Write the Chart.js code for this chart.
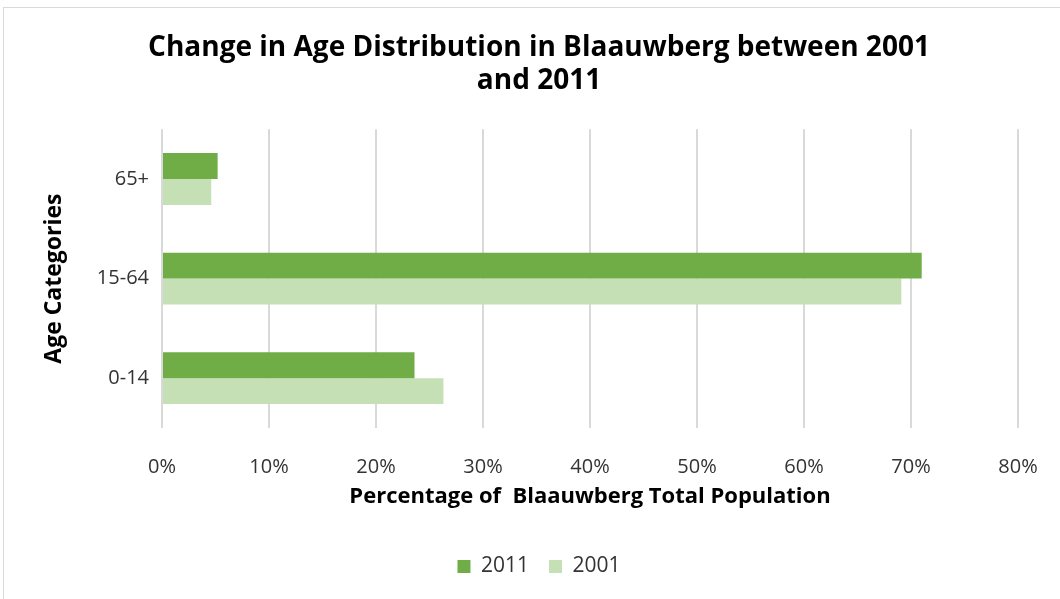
<!DOCTYPE html>
<html>
<head>
<meta charset="utf-8">
<script src="https://cdn.jsdelivr.net/npm/chart.js@4"></script>
<style>
  body { margin: 0; background: #fff; }
  #frame { position: absolute; left: 3px; top: 7px; width: 1060px; height: 600px; border: 1px solid #d9d9d9; box-sizing: border-box; }
  #wrap { position: absolute; left: 0; top: 0; width: 1060px; height: 599px; }
</style>
</head>
<body>
<div id="frame"></div>
<div id="wrap"><canvas id="myChart"></canvas></div>
<script>
const categorias = ['65+', '15-64', '0-14'];
const valores2011 = [5.2, 71.0, 23.6];
const valores2001 = [4.6, 69.1, 26.3];
const ticksX = [0, 10, 20, 30, 40, 50, 60, 70, 80];

const fonte = "'Open Sans', 'DejaVu Sans', sans-serif";

const data = {
    labels: categorias,
    datasets: [{
        label: '2011',
        backgroundColor: '#70ad47',
        data: valores2011,
        barPercentage: 1.0,
        categoryPercentage: 0.52
    }, {
        label: '2001',
        backgroundColor: '#c5e0b4',
        data: valores2001,
        barPercentage: 1.0,
        categoryPercentage: 0.52
    }]
};

const config = {
    type: 'bar',
    data: data,
    options: {
        indexAxis: 'y',
        responsive: true,
        maintainAspectRatio: false,
        animation: false,
        layout: { padding: { left: 60, right: 42, top: 31, bottom: 12 } },
        plugins: {
            title: {
                display: true,
                text: ['Change in Age Distribution in Blaauwberg between 2001', 'and 2011'],
                color: '#000',
                font: { family: fonte, size: 28, weight: 'bold' },
                padding: { top: 0, bottom: 31 },
                lineHeight: 1.3
            },
            legend: {
                position: 'bottom',
                labels: {
                    color: '#333',
                    font: { family: fonte, size: 21 },
                    boxWidth: 13,
                    boxHeight: 13,
                    padding: 20
                }
            },
            tooltip: { enabled: false }
        },
        scales: {
            x: {
                min: 0,
                max: 80,
                afterBuildTicks: function (axis) {
                    axis.ticks = ticksX.map(function (v) { return { value: v }; });
                },
                afterFit: function (axis) {
                    axis.height = 108;
                    axis.paddingRight = 0;
                },
                ticks: {
                    color: '#333',
                    font: { family: fonte, size: 20 },
                    padding: 27,
                    callback: function (v) { return v + '%'; }
                },
                grid: { color: '#d9d9d9', lineWidth: 2, drawTicks: false },
                border: { display: false },
                title: {
                    display: true,
                    text: 'Percentage of  Blaauwberg Total Population',
                    color: '#000',
                    font: { family: fonte, size: 22, weight: 'bold' },
                    padding: { top: 5, bottom: 26 }
                }
            },
            y: {
                afterFit: function (axis) {
                    axis.width = 102;
                },
                ticks: {
                    color: '#333',
                    font: { family: fonte, size: 20 },
                    padding: 5
                },
                grid: { display: false },
                border: { display: false },
                title: {
                    display: true,
                    text: 'Age Categories',
                    color: '#000',
                    font: { family: fonte, size: 23, weight: 'bold' },
                    padding: { top: -19, bottom: 0 }
                }
            }
        }
    }
};

const myChart = new Chart(document.getElementById('myChart'), config);
</script>
</body>
</html>
